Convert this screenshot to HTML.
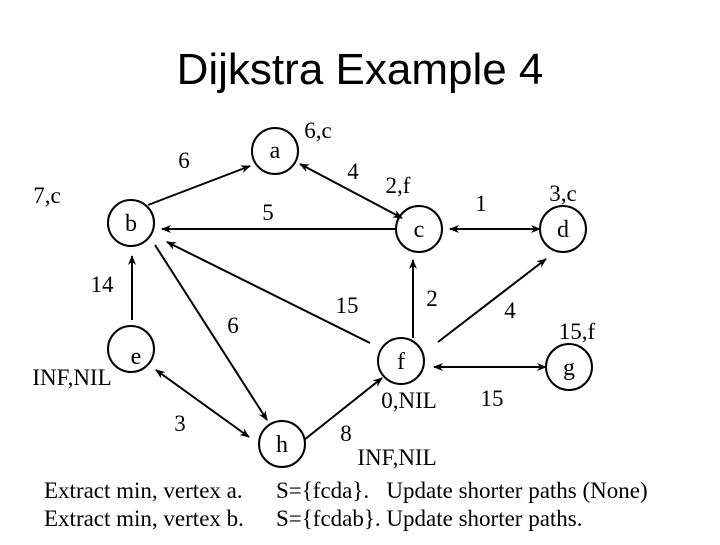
<!DOCTYPE html>
<html><head><style>
body{margin:0;background:#fff;width:720px;height:540px;overflow:hidden}
svg text{font-family:"Liberation Serif",serif;fill:#000}
</style></head><body>
<svg width="720" height="540" viewBox="0 0 720 540">
<defs><marker id="m" markerWidth="10" markerHeight="8" refX="9" refY="4" orient="auto-start-reverse" markerUnits="userSpaceOnUse"><path d="M0,0 L10,4 L0,8 L3,4 Z" fill="#000"/></marker></defs>
<text x="360" y="84" text-anchor="middle" style="font-family:'Liberation Sans',sans-serif;font-size:44px">Dijkstra Example 4</text>
<g fill="none" stroke="#000" stroke-width="2">
<circle cx="275" cy="151" r="23"/><circle cx="131" cy="223" r="23"/><circle cx="419" cy="229" r="23"/>
<circle cx="563" cy="229" r="23"/><circle cx="131" cy="349" r="23"/><circle cx="401" cy="361" r="23"/>
<circle cx="569" cy="367" r="23"/><circle cx="282" cy="444" r="23"/>
</g>
<g stroke="#000" stroke-width="2" marker-end="url(#m)">
<line x1="148" y1="205" x2="250" y2="166"/>
<line x1="300" y1="164" x2="402" y2="218" marker-start="url(#m)"/>
<line x1="396" y1="229" x2="162" y2="229"/>
<line x1="450" y1="229" x2="540" y2="229" marker-start="url(#m)"/>
<line x1="370" y1="343" x2="167" y2="242"/>
<line x1="413" y1="338" x2="413" y2="260"/>
<line x1="438" y1="342" x2="546" y2="259"/>
<line x1="434" y1="367" x2="546" y2="367" marker-start="url(#m)"/>
<line x1="132" y1="320" x2="132" y2="256"/>
<line x1="155" y1="245" x2="267" y2="420"/>
<line x1="156" y1="370" x2="249" y2="437" marker-start="url(#m)"/>
<line x1="304" y1="440" x2="382" y2="378"/>
</g>
<g font-size="24" text-anchor="middle">
<text x="275" y="158">a</text><text x="131" y="231">b</text><text x="419" y="237">c</text>
<text x="563" y="237">d</text><text x="136" y="364">e</text><text x="401" y="369">f</text>
<text x="569" y="375">g</text><text x="282" y="452">h</text>
</g>
<g font-size="23" text-anchor="middle">
<text x="318" y="138">6,c</text><text x="184" y="168">6</text><text x="353" y="179">4</text>
<text x="47" y="203">7,c</text><text x="268" y="220">5</text><text x="398" y="193">2,f</text>
<text x="481" y="211">1</text><text x="563" y="201">3,c</text>
<text x="102" y="292">14</text><text x="347" y="313">15</text><text x="432" y="306">2</text>
<text x="510" y="318">4</text><text x="233" y="333">6</text><text x="577" y="339">15,f</text>
<text x="72" y="385">INF,NIL</text><text x="409" y="408">0,NIL</text><text x="492" y="406">15</text>
<text x="180" y="431">3</text><text x="346" y="441">8</text><text x="397" y="465">INF,NIL</text>
</g>
<g font-size="23">
<text x="44" y="498">Extract min, vertex a.</text><text x="276" y="498">S={fcda}.&#160;&#160; Update shorter paths (None)</text>
<text x="44" y="526">Extract min, vertex b.</text><text x="276" y="526">S={fcdab}. Update shorter paths.</text>
</g>
</svg>
</body></html>
